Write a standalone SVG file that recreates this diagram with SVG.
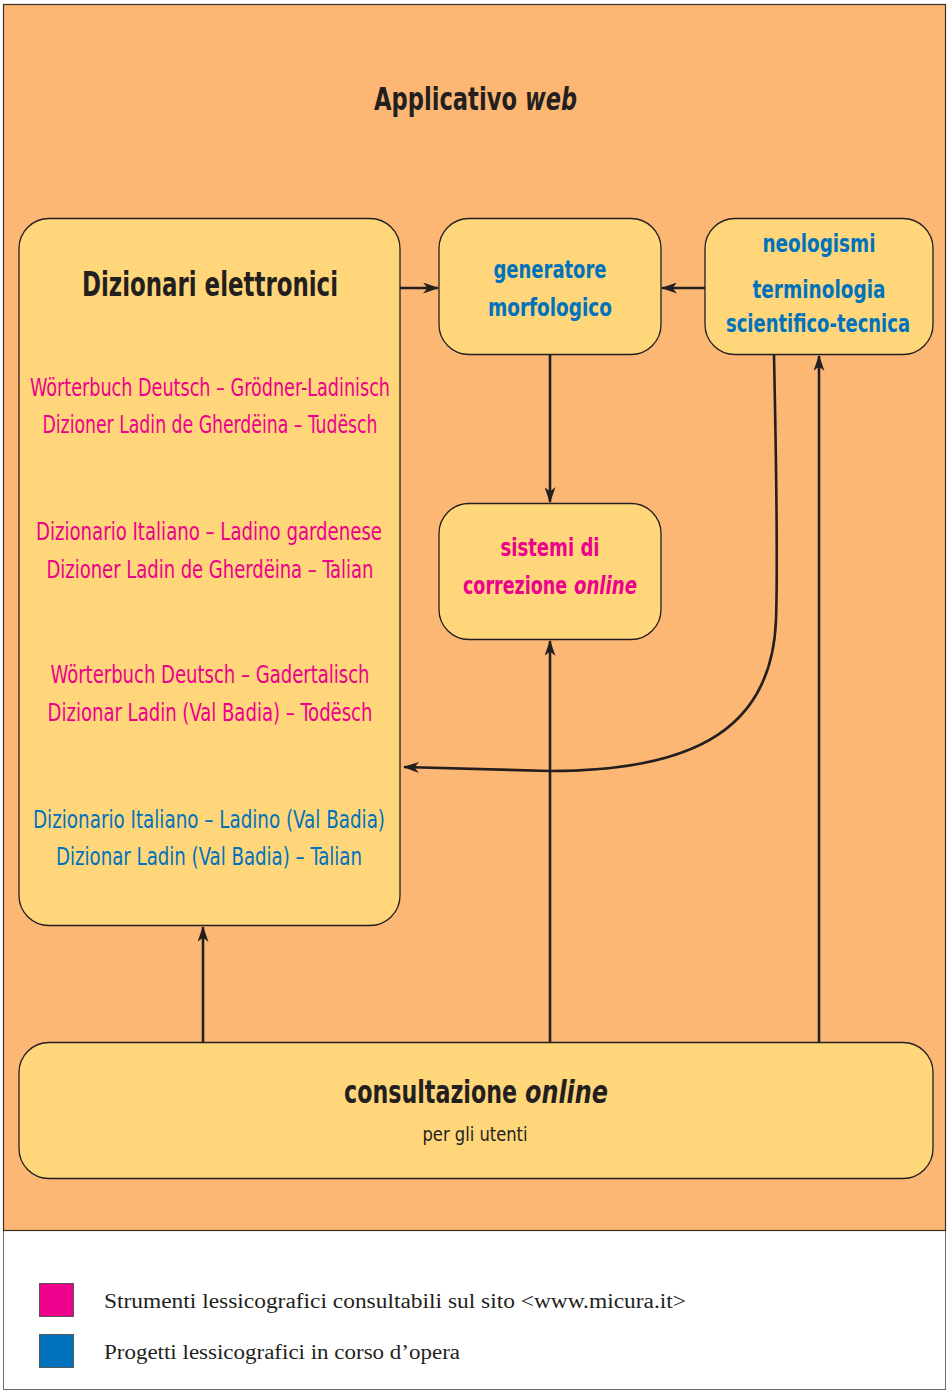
<svg xmlns="http://www.w3.org/2000/svg" width="947" height="1390" viewBox="0 0 947 1390">
<defs>
<style>
.box{fill:#FFD67A;stroke:#231F20;stroke-width:1.3}
.c{fill:none;stroke:#231F20;stroke-width:2.6}
.t{font-family:"Liberation Sans Narrow","DejaVu Sans Condensed","Open Sans",sans-serif;font-stretch:condensed;text-anchor:middle}
.s{text-anchor:start}
.i{font-style:italic}
.b{font-weight:bold}
.k{fill:#231F20}
.p{fill:#EC008C}
.u{fill:#0072BC}
.leg{font-family:"Liberation Serif",serif;font-size:20px;fill:#231F20}
</style>
<marker id="ah" viewBox="0 0 16 11" refX="15" refY="5.5" markerWidth="16" markerHeight="11" markerUnits="userSpaceOnUse" orient="auto">
<path d="M0,0 L16,5.5 L0,11 L4.5,5.5 Z" fill="#231F20"/>
</marker>
</defs>
<rect x="3.5" y="4.5" width="942" height="1385" fill="#FFFFFF" stroke="#6D6E71" stroke-width="1"/>
<rect x="3.5" y="4.5" width="942" height="1226" fill="#FDB774" stroke="#3A2E25" stroke-width="1.2"/>
<text class="t s b k" x="374" y="110" font-size="32" textLength="143" lengthAdjust="spacingAndGlyphs">Applicativo</text>
<text class="t s b i k" x="525" y="110" font-size="32" textLength="52" lengthAdjust="spacingAndGlyphs">web</text>

<g id="connectors">
<line class="c" x1="400" y1="288" x2="438" y2="288" marker-end="url(#ah)"/>
<line class="c" x1="705" y1="288" x2="662" y2="288" marker-end="url(#ah)"/>
<line class="c" x1="550" y1="355" x2="550" y2="502" marker-end="url(#ah)"/>
<line class="c" x1="550" y1="1042" x2="550" y2="641" marker-end="url(#ah)"/>
<line class="c" x1="203" y1="1042" x2="203" y2="927" marker-end="url(#ah)"/>
<line class="c" x1="819" y1="1042" x2="819" y2="356" marker-end="url(#ah)"/>
<path class="c" d="M774,355 C776,450 778,560 776,620 C772,725 700,771 550,771 L404,767" marker-end="url(#ah)"/>
</g>

<g id="dizionari">
<rect class="box" x="19" y="218.5" width="381" height="707" rx="30"/>
<text class="t b k" x="210" y="296" font-size="33" textLength="256" lengthAdjust="spacingAndGlyphs">Dizionari elettronici</text>
<g class="t p" font-size="24">
<text x="210" y="396" textLength="360" lengthAdjust="spacingAndGlyphs">Wörterbuch Deutsch – Grödner-Ladinisch</text>
<text x="210" y="433" textLength="335" lengthAdjust="spacingAndGlyphs">Dizioner Ladin de Gherdëina – Tudësch</text>
<text x="209" y="540" textLength="346" lengthAdjust="spacingAndGlyphs">Dizionario Italiano – Ladino gardenese</text>
<text x="210" y="578" textLength="327" lengthAdjust="spacingAndGlyphs">Dizioner Ladin de Gherdëina – Talian</text>
<text x="210" y="683" textLength="319" lengthAdjust="spacingAndGlyphs">Wörterbuch Deutsch – Gadertalisch</text>
<text x="210" y="721" textLength="325" lengthAdjust="spacingAndGlyphs">Dizionar Ladin (Val Badia) – Todësch</text>
</g>
<g class="t u" font-size="24">
<text x="209" y="828" textLength="352" lengthAdjust="spacingAndGlyphs">Dizionario Italiano – Ladino (Val Badia)</text>
<text x="209" y="865" textLength="306" lengthAdjust="spacingAndGlyphs">Dizionar Ladin (Val Badia) – Talian</text>
</g>
</g>

<g id="generatore">
<rect class="box" x="439" y="218.5" width="222" height="136" rx="30"/>
<text class="t b u" x="550" y="278" font-size="24" textLength="113" lengthAdjust="spacingAndGlyphs">generatore</text>
<text class="t b u" x="550" y="316" font-size="24" textLength="124" lengthAdjust="spacingAndGlyphs">morfologico</text>
</g>

<g id="neologismi">
<rect class="box" x="705" y="218.5" width="228" height="136" rx="30"/>
<text class="t b u" x="819" y="252" font-size="24" textLength="113" lengthAdjust="spacingAndGlyphs">neologismi</text>
<text class="t b u" x="819" y="298" font-size="24" textLength="133" lengthAdjust="spacingAndGlyphs">terminologia</text>
<text class="t b u" x="818" y="332" font-size="24" textLength="184" lengthAdjust="spacingAndGlyphs">scientifico-tecnica</text>
</g>

<g id="sistemi">
<rect class="box" x="439" y="503.5" width="222" height="136" rx="30"/>
<text class="t b p" x="550" y="556" font-size="24" textLength="99" lengthAdjust="spacingAndGlyphs">sistemi di</text>
<text class="t s b p" x="463" y="594" font-size="24" textLength="104" lengthAdjust="spacingAndGlyphs">correzione</text>
<text class="t s b i p" x="574" y="594" font-size="24" textLength="63" lengthAdjust="spacingAndGlyphs">online</text>
</g>

<g id="consultazione">
<rect class="box" x="19" y="1042.5" width="914" height="136" rx="30"/>
<text class="t s b k" x="344" y="1103" font-size="32" textLength="173" lengthAdjust="spacingAndGlyphs">consultazione</text>
<text class="t s b i k" x="525" y="1103" font-size="32" textLength="83" lengthAdjust="spacingAndGlyphs">online</text>
<text class="t k" x="475" y="1141" font-size="20" textLength="105" lengthAdjust="spacingAndGlyphs">per gli utenti</text>
</g>

<g id="legend">
<rect x="39.5" y="1283.5" width="34" height="33" fill="#EC008C" stroke="#555" stroke-width="1"/>
<rect x="39.5" y="1334.5" width="34" height="33" fill="#0072BC" stroke="#555" stroke-width="1"/>
<text class="leg" x="104" y="1308" textLength="582" lengthAdjust="spacingAndGlyphs">Strumenti lessicografici consultabili sul sito &lt;www.micura.it&gt;</text>
<text class="leg" x="104" y="1359" textLength="356" lengthAdjust="spacingAndGlyphs">Progetti lessicografici in corso d’opera</text>
</g>
</svg>
